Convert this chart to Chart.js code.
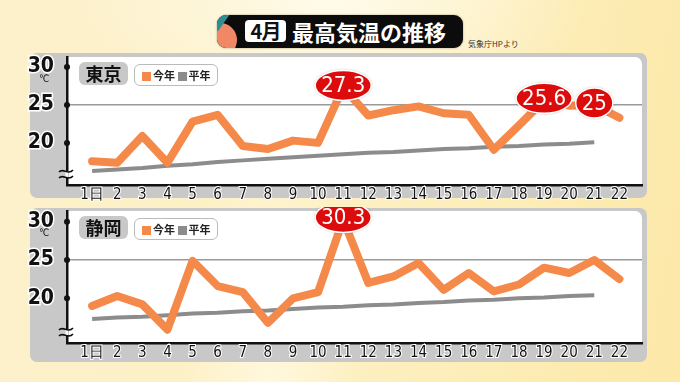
<!DOCTYPE html>
<html lang="ja">
<head>
<meta charset="utf-8">
<script src="https://cdn.jsdelivr.net/npm/chart.js@4"></script>
<style>
  html, body { margin: 0; padding: 0; }
  body {
    width: 680px; height: 382px; overflow: hidden; position: relative;
    background:
      radial-gradient(ellipse 260px 120px at 330px 0px, #fffbea 0%, rgba(255,251,234,0) 100%),
      radial-gradient(ellipse 90px 260px at 270px 382px, #fff8dc 0%, rgba(255,248,220,0) 100%),
      linear-gradient(100deg, #fcf1cc 0%, #fdf0c4 50%, #fce9a8 100%);
    font-family: "Noto Sans CJK JP", sans-serif;
  }
  .titlebar {
    position: absolute; left: 217px; top: 15px; width: 246px; height: 33px;
    background: #0c0c0c; border-radius: 9px; overflow: hidden;
    box-shadow: 0 0 2px rgba(0,0,0,0.4);
  }
  .titlebar .deco1 { position: absolute; left: -14px; top: 8px; width: 34px; height: 34px; border-radius: 50%; background: #f08866; }
  .titlebar .deco2 { position: absolute; left: -6px; top: -6px; width: 14px; height: 20px; background: #2e8e92; transform: rotate(35deg); }
  .month {
    position: absolute; left: 245px; top: 20px; width: 41px; height: 22px;
    background: #fff; border-radius: 4px; color: #111;
    font-weight: bold; font-size: 20px; line-height: 22px; text-align: center; letter-spacing: -1px;
  }
  .title {
    position: absolute; left: 292px; top: 15px; height: 33px; line-height: 33px;
    color: #fff; font-weight: bold; font-size: 22px; letter-spacing: 0px;
  }
  .source { position: absolute; left: 468px; top: 38px; font-size: 8px; color: #333; }
  .panel { position: absolute; left: 30px; width: 617px; background: #c8c8c8; border-radius: 7px; }
  canvas { position: absolute; left: 0; }
  .city {
    position: absolute; width: 49px; height: 23px; background: #c8c8c8; border-radius: 6px;
    font-weight: bold; font-size: 18px; line-height: 23px; text-align: center; color: #111;
  }
  .legend {
    position: absolute; width: 84px; height: 22px; background: #fff; border: 1px solid #bbb; border-radius: 6px;
    font-weight: bold; font-size: 11px; line-height: 20px; color: #222; box-sizing: border-box; padding-left: 7px;
  }
  .legend i { display: inline-block; width: 9px; height: 9px; vertical-align: -1px; margin-right: 2px; }
  .deg { position: absolute; left: 39px; font-size: 10px; color: #111; font-family: "DejaVu Sans Condensed", sans-serif; }
</style>
</head>
<body>
<div class="titlebar"><div class="deco1"></div><div class="deco2"></div></div>
<div class="month">4月</div>
<div class="title">最高気温の推移</div>
<div class="source">気象庁HPより</div>

<div class="panel" style="top:53px;height:145px"></div>
<div class="panel" style="top:208px;height:154px"></div>

<canvas id="tokyoChart" width="680" height="150" style="top:53px"></canvas>
<canvas id="shizuokaChart" width="680" height="160" style="top:207px"></canvas>

<div class="city" style="left:79px;top:62px">東京</div>
<div class="legend" style="left:134px;top:64px"><i style="background:#f5894a"></i>今年 <i style="background:#8c8c8c"></i>平年</div>
<div class="deg" style="top:73px">℃</div>

<div class="city" style="left:79px;top:216px">静岡</div>
<div class="legend" style="left:134px;top:218px"><i style="background:#f5894a"></i>今年 <i style="background:#8c8c8c"></i>平年</div>
<div class="deg" style="top:227px">℃</div>

<script>
// 日付
const days = [1, 2, 3, 4, 5, 6, 7, 8, 9, 10, 11, 12, 13, 14, 15, 16, 17, 18, 19, 20, 21, 22];
const yTicks = [20, 25, 30];

// 東京
const tokyoThisYear = [17.6, 17.4, 20.9, 17.4, 22.8, 23.7, 19.6, 19.2, 20.3, 20.0, 27.3, 23.6, 24.3, 24.8, 23.9, 23.7, 19.1, 22.3, 25.6, 24.9, 25.0, 23.3];
const tokyoNormal = [16.3, 16.5, 16.7, 17.0, 17.2, 17.5, 17.7, 17.9, 18.1, 18.3, 18.5, 18.7, 18.8, 19.0, 19.2, 19.3, 19.5, 19.6, 19.8, 19.9, 20.1];
const tokyoMarkedDays = [11, 19, 21];

// 静岡
const shizuokaThisYear = [19.0, 20.3, 19.2, 15.9, 24.9, 21.6, 20.8, 16.8, 20.0, 20.8, 30.3, 22.0, 22.85, 24.6, 21.1, 23.3, 20.9, 21.8, 24.0, 23.3, 25.0, 22.5];
const shizuokaNormal = [17.3, 17.5, 17.6, 17.8, 18.0, 18.1, 18.3, 18.4, 18.6, 18.8, 18.9, 19.1, 19.2, 19.4, 19.5, 19.7, 19.8, 20.0, 20.1, 20.3, 20.4];
const shizuokaMarkedDays = [11];

const numFont = "'Liberation Sans Narrow', 'DejaVu Sans Condensed', sans-serif";

// 白い背景、軸の点、波線、赤い吹き出し
const panelPlugin = {
    id: "panelPlugin",
    beforeDraw(chart) {
        const a = chart.chartArea;
        const ctx = chart.ctx;
        ctx.save();
        ctx.fillStyle = "#ffffff";
        ctx.beginPath();
        ctx.roundRect(a.left, a.top, a.right - a.left, a.bottom - a.top, [0, 7, 0, 0]);
        ctx.fill();
        ctx.restore();
    },
    afterDraw(chart) {
        const a = chart.chartArea;
        const ctx = chart.ctx;
        const y = chart.scales.y;
        ctx.save();
        // 軸の点
        ctx.fillStyle = "#111";
        yTicks.forEach(t => {
            ctx.beginPath();
            ctx.arc(a.left, y.getPixelForValue(t), 3, 0, Math.PI * 2);
            ctx.fill();
        });
        // 波線
        const by = a.bottom - 11;
        ctx.fillStyle = "#ffffff";
        ctx.fillRect(a.left - 1.5, by - 3, 3, 6);
        ctx.strokeStyle = "#111";
        ctx.lineWidth = 1.6;
        [by - 3, by + 3].forEach(yy => {
            ctx.beginPath();
            ctx.moveTo(a.left - 8, yy + 1);
            ctx.bezierCurveTo(a.left - 4, yy - 4, a.left + 1, yy + 5, a.left + 6, yy - 1);
            ctx.stroke();
        });
        ctx.restore();
    },
    afterDatasetsDraw(chart) {
        const ctx = chart.ctx;
        const xs = chart.scales.x, ys = chart.scales.y;
        const values = chart.data.datasets[0].data;
        const marked = chart.options.plugins.panelPlugin.marked;
        ctx.save();
        ctx.font = "22px " + numFont;
        ctx.textAlign = "center";
        ctx.textBaseline = "middle";
        marked.forEach(d => {
            const v = values[d - 1].y;
            const txt = String(v);
            const cx = xs.getPixelForValue(d);
            const cy = ys.getPixelForValue(v) - 2;
            const w = Math.max(30, ctx.measureText(txt).width + 12);
            const h = 30;
            ctx.shadowColor = "rgba(0,0,0,0.35)";
            ctx.shadowBlur = 3;
            ctx.fillStyle = "#dc0c0c";
            ctx.beginPath();
            ctx.ellipse(cx, cy, w / 2, h / 2, 0, 0, Math.PI * 2);
            ctx.fill();
            ctx.shadowColor = "transparent";
            ctx.strokeStyle = "#ffffff";
            ctx.lineWidth = 1.5;
            ctx.stroke();
            ctx.fillStyle = "#ffffff";
            ctx.fillText(txt, cx, cy + 1);
        });
        ctx.restore();
    }
};

function makeChart(id, thisYear, normal, marked, yMin, yMax, xHeight) {
    const ctx = document.getElementById(id).getContext("2d");
    return new Chart(ctx, {
        type: "line",
        data: {
            datasets: [{
                label: "今年",
                data: thisYear.map((v, i) => ({ x: days[i], y: v })),
                borderColor: "#f5894a",
                borderWidth: 8,
                borderJoinStyle: "round",
                borderCapStyle: "round",
                pointRadius: 0,
                tension: 0
            }, {
                label: "平年",
                data: normal.map((v, i) => ({ x: days[i], y: v })),
                borderColor: "#8c8c8c",
                borderWidth: 4,
                borderCapStyle: "butt",
                pointRadius: 0,
                tension: 0
            }]
        },
        options: {
            responsive: false,
            animation: false,
            layout: { padding: { left: 0, right: 38, top: 4, bottom: 0 } },
            plugins: {
                legend: { display: false },
                tooltip: { enabled: false },
                panelPlugin: { marked: marked }
            },
            scales: {
                x: {
                    type: "linear",
                    min: 0,
                    max: 22.9,
                    afterFit(scale) {
                        scale.height = xHeight;
                        scale.paddingLeft = 0;
                        scale.paddingRight = 0;
                    },
                    afterBuildTicks(scale) { scale.ticks = days.map(d => ({ value: d })); },
                    grid: { display: false, drawTicks: false },
                    border: { color: "#111", width: 2.5 },
                    ticks: {
                        autoSkip: false,
                        maxRotation: 0,
                        padding: 1,
                        color: "#111",
                        textStrokeColor: "#ffffff",
                        textStrokeWidth: 2,
                        font: { family: numFont, size: 15 },
                        callback: v => v === 1 ? "1日" : String(v)
                    }
                },
                y: {
                    min: yMin,
                    max: yMax,
                    afterFit(scale) {
                        scale.width = 67;
                        scale.paddingTop = 0;
                        scale.paddingBottom = 0;
                    },
                    afterBuildTicks(scale) { scale.ticks = yTicks.map(t => ({ value: t })); },
                    grid: {
                        drawTicks: false,
                        color: c => c.tick && c.tick.value === 25 ? "#9a9a9a" : "rgba(0,0,0,0)",
                        lineWidth: 1.5
                    },
                    border: { color: "#111", width: 2.5 },
                    ticks: {
                        padding: 13,
                        color: "#111",
                        textStrokeColor: "#ffffff",
                        textStrokeWidth: 3,
                        font: { family: numFont, size: 21, weight: "bold" }
                    }
                }
            }
        },
        plugins: [panelPlugin]
    });
}

makeChart("tokyoChart", tokyoThisYear, tokyoNormal, tokyoMarkedDays, 14.46, 31.3, 18);
makeChart("shizuokaChart", shizuokaThisYear, shizuokaNormal, shizuokaMarkedDays, 14.16, 31.4, 24);
</script>
</body>
</html>
